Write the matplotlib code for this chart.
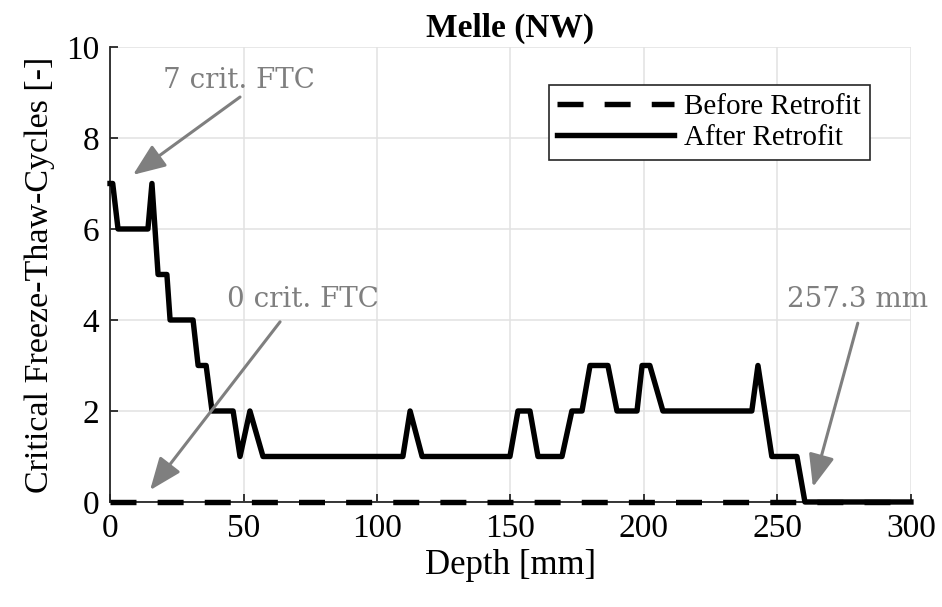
import matplotlib
matplotlib.use("Agg")
import matplotlib.pyplot as plt

# depth [mm] and critical freeze-thaw-cycles
depth_after = [0, 1, 3, 14.2, 15.7, 18.0, 21.3, 22.5, 31.1, 33.0, 36.0, 38.2,
               46.1, 48.7, 52.4, 57.3, 109.7, 112.4, 116.9, 149.8, 152.8,
               157.3, 160.3, 169.3, 173.0, 176.8, 179.8, 186.5, 189.9, 197.4,
               199.3, 202.2, 207.1, 240.4, 242.7, 247.9, 257.3, 260.3, 300]
ftc_after = [7, 7, 6, 6, 7, 5, 5, 4, 4, 3, 3, 2,
             2, 1, 2, 1, 1, 2, 1, 1, 2,
             2, 1, 1, 2, 2, 3, 3, 2, 2,
             3, 3, 2, 2, 3, 1, 1, 0, 0]
depth_before = [0, 300]
ftc_before = [0, 0]

xticks = [0, 50, 100, 150, 200, 250, 300]
yticks = [0, 2, 4, 6, 8, 10]

serif = "Liberation Serif"
grey = "#7f7f7f"

fig = plt.figure(figsize=(9.42, 6.07), dpi=100)
ax = fig.add_axes([0.1168, 0.173, 0.8502, 0.7496])

ax.plot(depth_before, ftc_before, color="black", lw=3.9,
        linestyle=(0, (4.8, 3.9)), dash_capstyle="butt",
        label="Before Retrofit", clip_on=False, zorder=3)
ax.plot(depth_after, ftc_after, color="black", lw=3.9,
        solid_joinstyle="round", label="After Retrofit",
        clip_on=False, zorder=4)

ax.set_xlim(0, 300)
ax.set_ylim(0, 10)
ax.set_xticks(xticks)
ax.set_yticks(yticks)
ax.grid(True, color="#e2e2e2", lw=1.1)
ax.set_axisbelow(True)
for s in ["top", "right"]:
    ax.spines[s].set_visible(False)
for s in ["left", "bottom"]:
    ax.spines[s].set_color("#262626")
    ax.spines[s].set_linewidth(1.3)
ax.tick_params(direction="in", length=6, width=1.3, color="#262626",
               labelsize=24, pad=8)
for lab in ax.get_xticklabels() + ax.get_yticklabels():
    lab.set_fontfamily(serif)

ax.set_xlabel("Depth [mm]", fontsize=25, family=serif, labelpad=4)
ax.set_ylabel("Critical Freeze-Thaw-Cycles [-]", fontsize=24.5,
              family=serif, labelpad=8)
ax.set_title("Melle (NW)", fontsize=24, family=serif, fontweight="bold",
             pad=7)

leg = ax.legend(loc="upper right", bbox_to_anchor=(0.9486, 0.916),
                borderaxespad=0, prop={"family": serif, "size": 21},
                handlelength=4.0, frameon=True, fancybox=False,
                edgecolor="#262626", framealpha=1, borderpad=0.3,
                labelspacing=0.15, handletextpad=0.35)
leg.get_frame().set_linewidth(1.2)

# annotations: (text, text pos, arrow tail, arrow head)
notes = [("7 crit. FTC", (48.3, 9.27), (48.7, 8.9), (8.6, 7.19)),
         ("0 crit. FTC", (72.3, 4.44), (63.7, 3.96), (15.0, 0.26)),
         ("257.3 mm", (280.1, 4.44), (280.1, 3.93), (263.3, 0.33))]
for txt, pos, tail, head in notes:
    ax.text(pos[0], pos[1], txt, ha="center", va="center", color=grey,
            fontsize=20, family="DejaVu Serif", zorder=5)
    ax.annotate("", xy=head, xytext=tail,
                arrowprops=dict(arrowstyle="-|>,head_length=0.55,head_width=0.22",
                                color=grey, lw=2.2, mutation_scale=36,
                                shrinkA=0, shrinkB=0), zorder=5)

plt.savefig("out.png", dpi=100)
